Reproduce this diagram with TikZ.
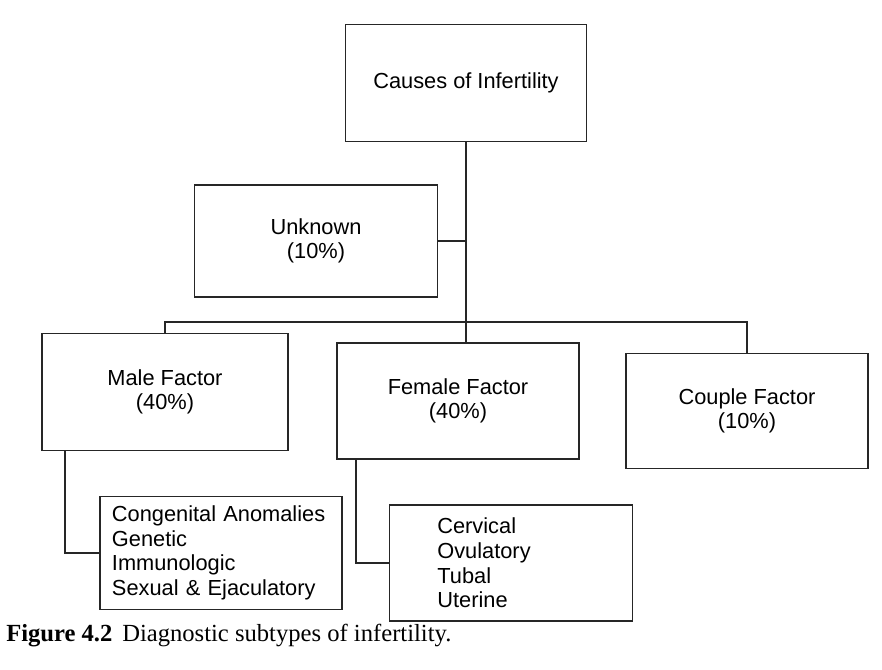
\documentclass[tikz,border=0pt]{standalone}
\usepackage{fontspec}
\setmainfont{Liberation Serif}
\newfontfamily\boxfont{Liberation Sans}
\tikzset{
    riquadro/.style={draw=black!85, line width=1.1pt, align=center,
        font=\boxfont\fontsize{15.5}{17.5}\selectfont},
    elenco/.style={riquadro, align=left},
    linea/.style={draw=black!85, line width=1.1pt}
}
\begin{document}
\begin{tikzpicture}[x=0.025cm, y=-0.025cm]
        \useasboundingbox (0,0) rectangle (882,670);

        % riquadri
        \node[riquadro, minimum width=6.03cm, minimum height=2.93cm] (cause) at (466,83) {Causes of Infertility};
        \node[riquadro, minimum width=6.08cm, minimum height=2.8cm] (unknown) at (316,241) {Unknown\\(10\%)};
        \node[riquadro, minimum width=6.15cm, minimum height=2.93cm] (male) at (165,392) {Male Factor\\(40\%)};
        \node[riquadro, minimum width=6.05cm, minimum height=2.9cm] (female) at (458,401) {Female Factor\\(40\%)};
        \node[riquadro, minimum width=6.05cm, minimum height=2.88cm] (couple) at (747,411) {Couple Factor\\(10\%)};
        \node[elenco, text width=5.45cm, inner xsep=0.3cm, minimum height=2.83cm] (malesub) at (221,553)
            {Congenital Anomalies\\Genetic\\Immunologic\\Sexual \& Ejaculatory};
        \node[elenco, text width=3.68cm, inner xsep=1.2cm, minimum height=2.9cm] (femalesub) at (511,563)
            {Cervical\\Ovulatory\\Tubal\\Uterine};

        % collegamenti
        \coordinate (bar) at (466,322);
        \draw[linea] (cause.south) -- (cause.south |- female.north);
        \draw[linea] (unknown.east) -- (unknown.east -| cause.south);
        \draw[linea] (male.north) -- (male.north |- bar) -- (couple.north |- bar) -- (couple.north);
        \draw[linea] ([xshift=0.6cm]male.south west) |- (malesub.west);
        \draw[linea] ([xshift=0.5cm]female.south west) |- (femalesub.west);

        % didascalia
        \node[anchor=base west, inner sep=0pt, font=\fontsize{17.5}{20}\selectfont] (caption) at (6,641)
            {\textbf{Figure 4.2}\hspace{0.4em}Diagnostic subtypes of infertility.};
    \end{tikzpicture}
\end{document}
